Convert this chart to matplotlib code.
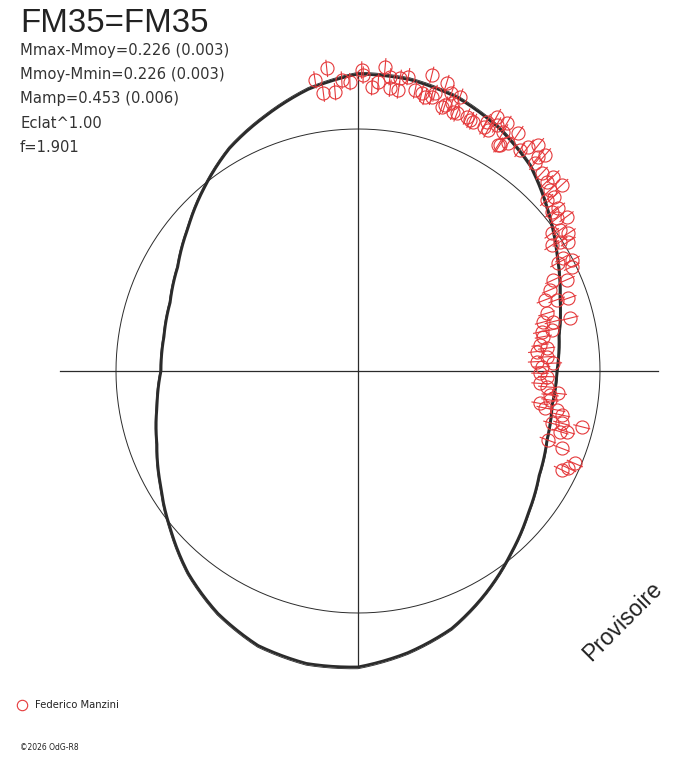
import numpy as np
import matplotlib.pyplot as plt
from matplotlib.lines import Line2D
from matplotlib.path import Path
from matplotlib.patches import PathPatch

# black curve: phase angle (deg) and radius (reference circle = 1)
curve_ang = [0, 10, 20, 30, 40, 50, 60, 70, 80, 90, 100, 110,
             120, 130, 140, 150, 160, 170, 180, 190, 200, 210, 220, 230,
             240, 250, 260, 270, 280, 290, 300, 310, 320, 330, 340, 350]
curve_r = [0.822, 0.843, 0.888, 0.950, 1.025, 1.107, 1.161, 1.202, 1.223, 1.227, 1.182, 1.120,
           1.062, 0.988, 0.917, 0.860, 0.826, 0.814, 0.814, 0.843, 0.884, 0.942, 1.012, 1.091,
           1.157, 1.207, 1.227, 1.223, 1.182, 1.132, 1.058, 0.983, 0.917, 0.864, 0.831, 0.814]

# red observations: angle (deg), radius
red_ang = [95.9, 98.4, 97.1, 94.7, 93.2, 91.6, 89.3, 89.0, 87.2, 86.0, 84.9, 83.5,
           81.8, 81.8, 80.3, 78.5, 77.1, 76.0, 75.0, 72.9, 72.4, 70.7, 69.6, 69.0,
           66.9, 65.2, 62.8, 61.4, 58.2, 61.7, 76.3, 74.5, 71.9, 69.8, 65.9, 62.7,
           60.6, 59.0, 58.7, 57.9, 56.6, 56.0, 53.8, 52.8, 51.4, 49.9, 49.1, 49.6,
           47.1, 44.9, 45.1, 42.4, 43.3, 42.2, 41.7, 39.1, 39.4, 36.5, 37.5, 34.9,
           33.2, 31.6, 33.0, 32.6, 35.4, 26.0, 23.6, 25.0, 22.9, 19.1, 19.7, 17.0,
           14.0, 14.2, 12.0, 10.5, 8.1, 6.2, 6.9, 4.3, 3.0, 2.3, 1.3, 359.3,
           358.3, 356.1, 355.2, 353.6, 349.9, 351.4, 348.9, 347.8, 344.9, 345.6, 346.0, 343.8,
           343.3, 339.2, 336.9, 334.1, 335.2, 27.4, 20.8, 12.1, 14.8, 28.4, 28.9, 352.9,
           340.0, 348.8, 83.8, 71.4]
red_r = [1.257, 1.216, 1.157, 1.158, 1.204, 1.196, 1.244, 1.223, 1.176, 1.198, 1.262, 1.176,
         1.173, 1.222, 1.234, 1.185, 1.177, 1.260, 1.174, 1.244, 1.146, 1.172, 1.209, 1.140,
         1.143, 1.135, 1.135, 1.197, 1.099, 1.131, 1.167, 1.191, 1.157, 1.142, 1.136, 1.159,
         1.167, 1.194, 1.157, 1.103, 1.127, 1.185, 1.132, 1.164, 1.195, 1.157, 1.181, 1.128,
         1.115, 1.138, 1.105, 1.140, 1.090, 1.052, 1.082, 1.066, 1.036, 1.072, 1.036, 1.018,
         1.039, 1.020, 0.955, 0.991, 0.982, 0.983, 0.941, 0.890, 0.861, 0.919, 0.872, 0.815,
         0.903, 0.832, 0.818, 0.779, 0.760, 0.743, 0.785, 0.782, 0.739, 0.808, 0.759, 0.752,
         0.780, 0.754, 0.783, 0.833, 0.764, 0.802, 0.837, 0.861, 0.829, 0.869, 0.953, 0.898,
         0.872, 0.900, 0.974, 0.936, 0.957, 0.996, 0.826, 0.776, 0.792, 0.939, 0.967, 0.800,
         0.835, 0.788, 1.223, 1.211]
red_err = 0.036

info_lines = ['Mmax-Mmoy=0.226 (0.003)', 'Mmoy-Mmin=0.226 (0.003)',
              'Mamp=0.453 (0.006)', 'Eclat^1.00', 'f=1.901']

RED = '#e5393b'
INK = '#2b2b2b'
W, H = 688, 768
CX, CY, UNIT = 358, 371, 242   # centre and reference-circle radius in pixels
RMAX = 1.35

fig = plt.figure(figsize=(W / 100, H / 100), dpi=100)
rad_px = RMAX * UNIT
ax = fig.add_axes([(CX - rad_px) / W, (H - CY - rad_px) / H, 2 * rad_px / W, 2 * rad_px / H],
                  projection='polar')
ax.set_ylim(0, RMAX)
ax.set_axis_off()

# cross and reference circle
for th, r in [(0, 1.24), (np.pi, 1.23), (np.pi / 2, 1.235), (1.5 * np.pi, 1.223)]:
    ax.plot([th, th], [0, r], color=INK, lw=0.9)
ring = Path([(0, 1), (2 * np.pi, 1)]).interpolated(360)
ax.add_patch(PathPatch(ring, fill=False, ec=INK, lw=0.7, transform=ax.transData))

# black curve (closed); segments follow the polar geometry
ca = np.radians(curve_ang + [360])
cr = np.array(curve_r + [curve_r[0]])
for scale, lw in [(1.0, 2.0), (1.006, 0.6)]:
    curve = Path(np.column_stack([ca, cr * scale])).interpolated(12)
    ax.add_patch(PathPatch(curve, fill=False, ec=INK, lw=lw, zorder=3,
                           transform=ax.transData))

# red points with radial error bars
ra = np.radians(red_ang)
rr = np.array(red_r)
ax.vlines(ra, rr - red_err, rr + red_err, colors=RED, lw=0.8, zorder=4)
ax.plot(ra, rr, 'o', ms=9.4, mfc='none', mec=RED, mew=0.8, zorder=4)

# texts
fig.text(20 / W, 1 - 32 / H, 'FM35=FM35', fontsize=23.8, color='#222222',
         family='Liberation Sans', va='baseline')
for i, s in enumerate(info_lines):
    fig.text(20 / W, 1 - (54.5 + 24.5 * i) / H, s, fontsize=10.6, color='#333333',
             family='DejaVu Sans', va='baseline')

fig.text(623 / W, 1 - 621 / H, 'Provisoire', fontsize=16.5, rotation=45,
         family='Liberation Sans', color='#222222', ha='center', va='center')

fig.add_artist(Line2D([22 / W], [1 - 705 / H], marker='o', ms=7.5, mfc='none',
                      mec=RED, mew=0.8, transform=fig.transFigure))
fig.text(35 / W, 1 - 705 / H, 'Federico Manzini', fontsize=7.2, color='#222222',
         family='DejaVu Sans', va='center')
fig.text(20 / W, 1 - 748 / H, '©2026 OdG-R8', fontsize=5.5, color='#222222',
         family='DejaVu Sans', va='center')

fig.savefig('out.png', dpi=100, facecolor='white')
